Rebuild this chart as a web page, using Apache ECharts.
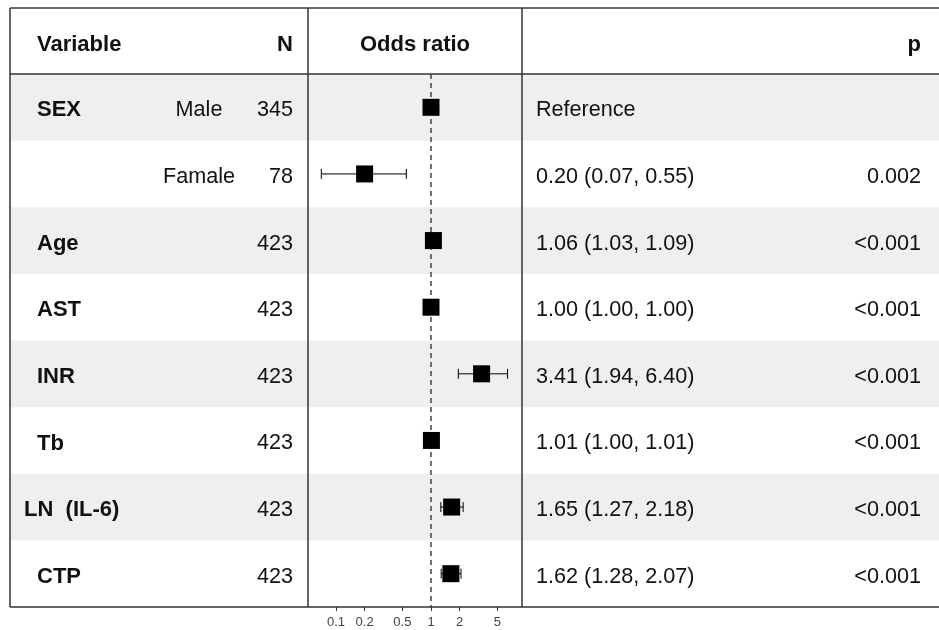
<!DOCTYPE html>
<html>
<head>
<meta charset="utf-8">
<style>html,body{margin:0;padding:0;background:#fff;}#chart{width:939px;height:630px;}</style>
<script src="https://cdn.jsdelivr.net/npm/echarts@6/dist/echarts.min.js"></script>
</head>
<body>
<div id="chart"></div>
<script>
// ---- data ----
const variables = ['SEX', '', 'Age', 'AST', 'INR', 'Tb', 'LN  (IL-6)', 'CTP'];
const levels = ['Male', 'Famale', '', '', '', '', '', ''];
const nValues = [345, 78, 423, 423, 423, 423, 423, 423];
const oddsRatio = [1.00, 0.20, 1.06, 1.00, 3.41, 1.01, 1.65, 1.62];
const ciLower = [null, 0.07, 1.03, 1.00, 1.94, 1.00, 1.27, 1.28];
const ciUpper = [null, 0.55, 1.09, 1.00, 6.40, 1.01, 2.18, 2.07];
const estimateText = ['Reference', '0.20 (0.07, 0.55)', '1.06 (1.03, 1.09)', '1.00 (1.00, 1.00)', '3.41 (1.94, 6.40)', '1.01 (1.00, 1.01)', '1.65 (1.27, 2.18)', '1.62 (1.28, 2.07)'];
const pText = ['', '0.002', '<0.001', '<0.001', '<0.001', '<0.001', '<0.001', '<0.001'];
const tickValues = [0.1, 0.2, 0.5, 1, 2, 5];
const headers = ['Variable', 'N', 'Odds ratio', 'p'];

// ---- layout ----
const W = 939;
const TOP = 8, HEAD_B = 74, BOT = 607;
const LEFT = 10, COL1 = 308, COL2 = 522;
const ROW_H = (BOT - HEAD_B) / variables.length;
const FONT = '"Liberation Sans", Arial, sans-serif';
const FS = 21.6, FSB = 22;

const graphics = [];
for (let i = 0; i < variables.length; i++) {
  if (i % 2 === 0) {
    graphics.push({type: 'rect', z: 0, silent: true,
      shape: {x: LEFT, y: HEAD_B + i * ROW_H, width: W - LEFT, height: ROW_H},
      style: {fill: '#efefef'}});
  }
}
const lineStyle = {stroke: '#333', lineWidth: 1.5};
[[LEFT, TOP, W, TOP], [LEFT, HEAD_B, W, HEAD_B], [LEFT, BOT, W, BOT],
 [LEFT, TOP, LEFT, BOT], [COL1, TOP, COL1, BOT], [COL2, TOP, COL2, BOT]].forEach(l => {
  graphics.push({type: 'line', z: 10, silent: true,
    shape: {x1: l[0], y1: l[1], x2: l[2], y2: l[3]}, style: lineStyle});
});
function txt(x, y, s, align, bold) {
  graphics.push({type: 'text', z: 10, silent: true, x: x, y: y,
    style: {text: s, fill: '#111', font: (bold ? 'bold ' + FSB : FS) + 'px ' + FONT,
      textAlign: align, textVerticalAlign: 'middle'}});
}
const HY = 45;
txt(37, HY, headers[0], 'left', true);
txt(293, HY, headers[1], 'right', true);
txt(415, HY, headers[2], 'center', true);
txt(921, HY, headers[3], 'right', true);
for (let i = 0; i < variables.length; i++) {
  const cy = HEAD_B + (i + 0.5) * ROW_H + 3;
  if (variables[i]) txt(variables[i].startsWith('LN') ? 24 : 37, cy, variables[i], 'left', true);
  if (levels[i]) txt(199, cy, levels[i], 'center', false);
  txt(293, cy, String(nValues[i]), 'right', false);
  txt(536, cy, estimateText[i], 'left', false);
  if (pText[i]) txt(921, cy, pText[i], 'right', false);
}

const rowIds = variables.map((v, i) => String(i));
const pointData = oddsRatio.map((v, i) => [v, i]);
const ciData = [];
ciLower.forEach((lo, i) => { if (lo !== null) ciData.push([lo, ciUpper[i], i]); });

const chart = echarts.init(document.getElementById('chart'));
chart.setOption({
  animation: false,
  backgroundColor: '#fff',
  grid: {left: COL1, top: HEAD_B, width: COL2 - COL1, height: BOT - HEAD_B, containLabel: false},
  xAxis: {
    type: 'log', logBase: 10, min: 0.0507, max: 9.08,
    axisLine: {show: false},
    splitLine: {show: false},
    axisTick: {show: true, customValues: tickValues, length: 4, lineStyle: {color: '#333', width: 1}},
    axisLabel: {show: true, customValues: tickValues, fontSize: 13, color: '#444', fontFamily: FONT, margin: 9,
      formatter: v => String(+v.toPrecision(3))}
  },
  yAxis: {
    type: 'category', data: rowIds, inverse: true, boundaryGap: true,
    axisLine: {show: false}, axisTick: {show: false}, axisLabel: {show: false}, splitLine: {show: false}
  },
  graphic: graphics,
  series: [
    {
      type: 'scatter', z: 1, data: [],
      markLine: {
        z: 1, silent: true, symbol: ['none', 'none'], label: {show: false},
        lineStyle: {type: [5, 4], color: '#444', width: 1.5},
        data: [{xAxis: 1}]
      }
    },
    {
      type: 'custom', z: 3, data: ciData,
      encode: {x: [0, 1], y: 2},
      renderItem: (params, api) => {
        const row = api.value(2);
        const a = api.coord([api.value(0), row]);
        const b = api.coord([api.value(1), row]);
        const cap = 5;
        const st = {stroke: '#000', lineWidth: 1};
        return {type: 'group', children: [
          {type: 'line', shape: {x1: a[0], y1: a[1], x2: b[0], y2: b[1]}, style: st},
          {type: 'line', shape: {x1: a[0], y1: a[1] - cap, x2: a[0], y2: a[1] + cap}, style: st},
          {type: 'line', shape: {x1: b[0], y1: b[1] - cap, x2: b[0], y2: b[1] + cap}, style: st}
        ]};
      }
    },
    {
      type: 'scatter', z: 4, data: pointData, symbol: 'rect', symbolSize: 17,
      itemStyle: {color: '#000', opacity: 1}
    }
  ]
});
</script>
</body>
</html>
